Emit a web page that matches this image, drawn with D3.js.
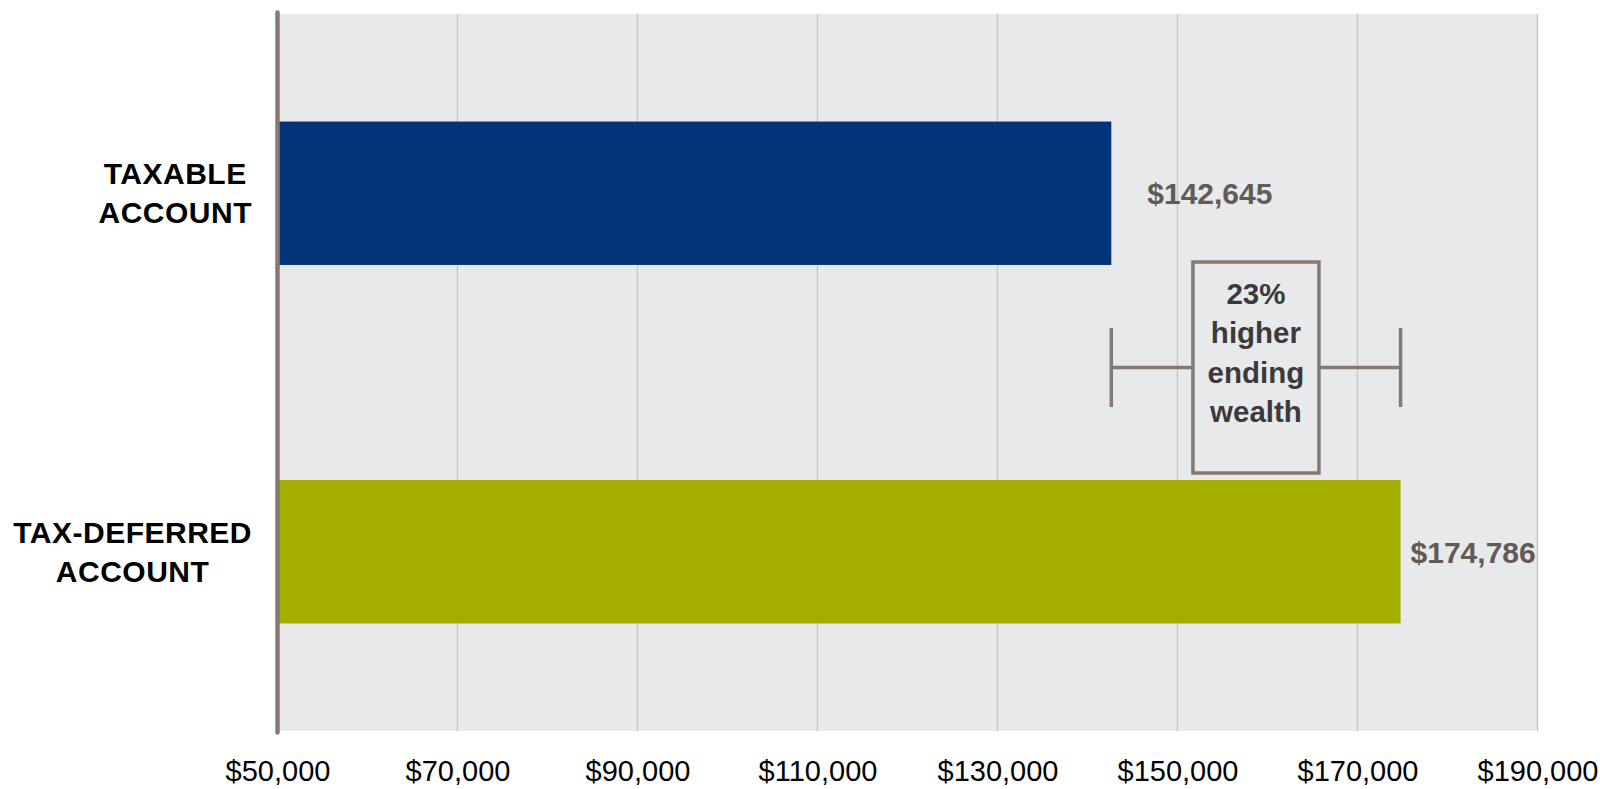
<!DOCTYPE html>
<html>
<head>
<meta charset="utf-8">
<script src="https://cdn.jsdelivr.net/npm/d3@7/dist/d3.min.js"></script>
<style>
  html, body { margin: 0; padding: 0; background: #ffffff; }
  svg { display: block; font-family: "Liberation Sans", Arial, sans-serif; }
</style>
</head>
<body>
<svg id="chart" width="1600" height="789"></svg>
<script>
// Ending wealth by account type
const categoryLines = [["TAXABLE", "ACCOUNT"], ["TAX-DEFERRED", "ACCOUNT"]];
const values = [142645, 174786];
const valueLabels = ["$142,645", "$174,786"];
const tickValues = [50000, 70000, 90000, 110000, 130000, 150000, 170000, 190000];
const annotationLines = ["23%", "higher", "ending", "wealth"];

const barColors = ["#003478", "#A3AD00"];
const plotBg = "#E8E9EB";
const gridColor = "#C4C5C8";
const accentGray = "#857A72";

const svg = d3.select("#chart");
const margin = { left: 277.5, right: 62.5, top: 14, bottom: 58 };
const W = 1600, H = 789;
const plotW = W - margin.left - margin.right;
const plotH = H - margin.top - margin.bottom;

const x = d3.scaleLinear().domain([50000, 190000]).range([margin.left, margin.left + plotW]);
const y = d3.scaleBand()
  .domain(d3.range(values.length))
  .range([margin.top, margin.top + plotH])
  .paddingInner(0.6)
  .paddingOuter(0.3);

// plot background
svg.append("rect")
  .attr("x", margin.left).attr("y", margin.top)
  .attr("width", plotW).attr("height", plotH)
  .attr("fill", plotBg);

// vertical gridlines
svg.append("g").selectAll("line")
  .data(tickValues.slice(1))
  .join("line")
  .attr("x1", d => x(d)).attr("x2", d => x(d))
  .attr("y1", margin.top).attr("y2", margin.top + plotH)
  .attr("stroke", gridColor).attr("stroke-width", 1.3);

// bottom axis tick labels
const xAxis = d3.axisBottom(x)
  .tickValues(tickValues)
  .tickFormat(d => "$" + d3.format(",")(d))
  .tickSize(0).tickPadding(29);
const axisG = svg.append("g")
  .attr("transform", `translate(0,${margin.top + plotH})`)
  .call(xAxis);
axisG.select(".domain").remove();
axisG.selectAll("text")
  .attr("font-size", 29).attr("fill", "#000")
  .attr("font-family", "'Liberation Sans', Arial, sans-serif");

// bars
svg.append("g").selectAll("rect")
  .data(values)
  .join("rect")
  .attr("x", x(50000))
  .attr("y", (d, i) => y(i))
  .attr("width", d => x(d) - x(50000))
  .attr("height", y.bandwidth())
  .attr("fill", (d, i) => barColors[i]);

// value labels
const labelDx = [36, 10];
svg.append("g").selectAll("text")
  .data(values)
  .join("text")
  .attr("x", (d, i) => x(d) + labelDx[i])
  .attr("y", (d, i) => y(i) + y.bandwidth() / 2 + 11)
  .attr("font-size", 30).attr("font-weight", "bold")
  .attr("fill", "#625A55")
  .text((d, i) => valueLabels[i]);

// category labels (block right-aligned, lines centered)
const catG = svg.append("g");
categoryLines.forEach((lines, i) => {
  const cy = y(i) + y.bandwidth() / 2;
  const lh = 39;
  const g = catG.append("g");
  const texts = g.selectAll("text")
    .data(lines)
    .join("text")
    .attr("font-size", 30).attr("font-weight", "bold")
    .attr("letter-spacing", 0.5)
    .attr("fill", "#000")
    .attr("text-anchor", "middle")
    .attr("y", (d, k) => cy + (k - (lines.length - 1) / 2) * lh + 10.5)
    .text(d => d);
  let maxW = 0;
  texts.each(function () { maxW = Math.max(maxW, this.getComputedTextLength()); });
  texts.attr("x", 252 - maxW / 2);
});

// left axis line
svg.append("line")
  .attr("x1", x(50000)).attr("x2", x(50000))
  .attr("y1", margin.top - 1.5).attr("y2", margin.top + plotH + 1.5)
  .attr("stroke", accentGray).attr("stroke-width", 4.5)
  .attr("stroke-linecap", "round");

// difference bracket with annotation box
const bx0 = x(values[0]), bx1 = x(values[1]);
const bcy = (y(0) + y.bandwidth() + y(1)) / 2 - 5;
const boxW = 126, boxH = 211;
const bcx = (bx0 + bx1) / 2;
const ann = svg.append("g").attr("stroke", accentGray).attr("stroke-width", 3.5).attr("fill", "none");
ann.append("line").attr("x1", bx0).attr("x2", bx0).attr("y1", bcy - 39.5).attr("y2", bcy + 39.5);
ann.append("line").attr("x1", bx1).attr("x2", bx1).attr("y1", bcy - 39.5).attr("y2", bcy + 39.5);
ann.append("line").attr("x1", bx0).attr("x2", bcx - boxW / 2).attr("y1", bcy).attr("y2", bcy);
ann.append("line").attr("x1", bcx + boxW / 2).attr("x2", bx1).attr("y1", bcy).attr("y2", bcy);
ann.append("rect")
  .attr("x", bcx - boxW / 2).attr("y", bcy - boxH / 2)
  .attr("width", boxW).attr("height", boxH)
  .attr("fill", plotBg);

svg.append("g").selectAll("text")
  .data(annotationLines)
  .join("text")
  .attr("x", bcx)
  .attr("y", (d, k) => bcy - 64 + k * 39.5)
  .attr("text-anchor", "middle")
  .attr("font-size", 29.5).attr("font-weight", "bold")
  .attr("fill", "#3A3A3A")
  .text(d => d);
</script>
</body>
</html>
